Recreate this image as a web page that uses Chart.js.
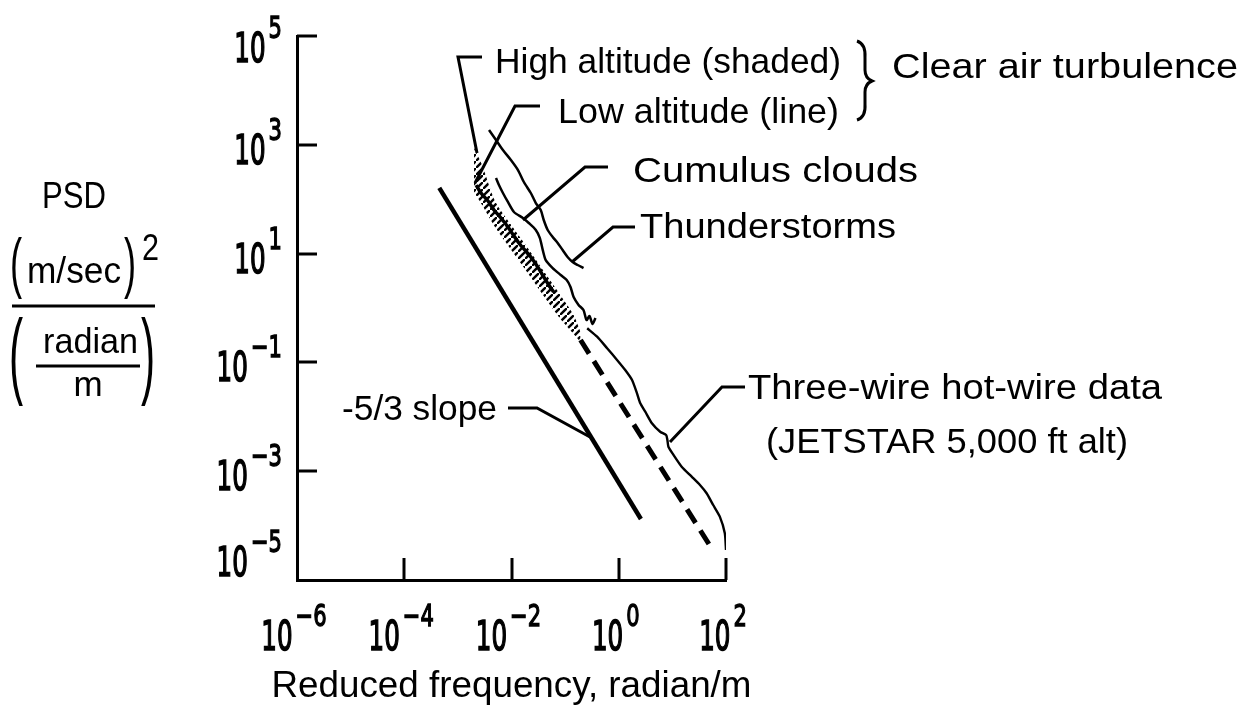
<!DOCTYPE html>
<html><head><meta charset="utf-8">
<script src="https://cdn.jsdelivr.net/npm/chart.js@4/dist/chart.umd.min.js"></script>
<style>html,body{margin:0;padding:0;background:#fff;}#wrap{width:1257px;height:711px;position:relative;}</style>
</head><body><div id="wrap"><canvas id="c" width="1257" height="711"></canvas></div>
<script>
// ---- tick labels (powers of ten) ----
const xTickExponents = [-6, -4, -2, 0, 2];
const yTickExponents = [5, 3, 1, -1, -3, -5];

// ---- series (frequency in radian/m, PSD in (m/sec)^2/(radian/m)) ----
const slopeFreq = [4.50e-4, 2.59];
const slopePSD  = [161, 1.32e-4];

const thunderFreq = [3.81e-3, 5.14e-3, 6.92e-3, 9.75e-3, 1.32e-2, 1.70e-2, 2.29e-2, 2.84e-2, 3.51e-2, 3.99e-2, 4.73e-2, 5.86e-2, 7.26e-2, 8.99e-2, 0.111, 0.138, 0.171, 0.220];
const thunderPSD  = [1871, 1224, 802, 526, 344, 207, 130, 85.1, 63.2, 41.5, 27.2, 20.2, 15.7, 11.6, 8.67, 7.01, 6.17, 5.43];

const cumulusFreq = [5.14e-3, 5.83e-3, 6.92e-3, 8.57e-3, 1.11e-2, 1.63e-2, 2.10e-2, 2.84e-2, 3.37e-2, 3.83e-2, 4.35e-2, 5.86e-2, 8.26e-2, 0.107, 0.126, 0.144, 0.178, 0.220, 0.251, 0.285, 0.324, 0.368];
const cumulusPSD  = [245, 182, 130, 88.9, 58.2, 45.1, 36.5, 27.2, 19.4, 11.6, 7.62, 5.43, 4.05, 3.27, 2.43, 1.59, 1.14, 0.918, 0.601, 0.713, 0.508, 0.655];

const lowAltFreq = [2.19e-3, 2.70e-3, 3.65e-3, 4.71e-3, 6.35e-3, 8.57e-3, 1.11e-2, 1.37e-2, 1.77e-2, 2.29e-2, 3.09e-2, 3.99e-2, 4.94e-2, 6.12e-2];
const lowAltPSD  = [182, 130, 92.7, 63.2, 45.1, 30.8, 21.1, 15.7, 11.6, 8.67, 5.68, 3.72, 2.65, 1.97];

const highAltFreq     = [2.00e-3, 2.83e-3, 4.92e-3, 1.02e-2, 2.01e-2, 3.99e-2, 7.91e-2, 0.144, 0.194];
const highAltUpperPSD = [873, 426, 92.7, 32.1, 12.7, 4.79, 1.81, 0.743, 0.362];
const highAltLowerPSD = [136, 78.2, 30.8, 11.2, 4.40, 1.66, 0.655, 0.333, 0.237];

const extrapFreq = [0.194, 53.8];
const extrapPSD  = [0.258, 3.83e-5];

const hotWireFreq = [0.258, 0.395, 0.607, 0.929, 1.32, 1.77, 2.19, 2.52, 3.12, 4.15, 5.92, 7.64, 8.07, 8.43, 10.5, 14.9, 22.9, 32.7, 43.5, 57.7, 76.7, 95.1, 100];
const hotWirePSD  = [0.424, 0.297, 0.182, 0.111, 0.0724, 0.0474, 0.0270, 0.0177, 0.0124, 7.60e-3, 5.32e-3, 4.62e-3, 3.75e-3, 2.82e-3, 1.99e-3, 1.21e-3, 7.93e-4, 5.57e-4, 3.93e-4, 2.39e-4, 1.46e-4, 7.21e-5, 3.56e-5];

// ---- helpers ----
const pts = (xs, ys) => xs.map((x, i) => ({x: x, y: ys[i]}));
function hatchPattern() {
  const c = document.createElement('canvas'); c.width = 7; c.height = 7;
  const g = c.getContext('2d');
  g.strokeStyle = '#000'; g.lineWidth = 2.4;
  g.beginPath();
  g.moveTo(-1, 8); g.lineTo(8, -1);
  g.stroke();
  return g.createPattern(c, 'repeat');
}
const SANS = '"Liberation Sans", Arial, sans-serif';
const DIG = '"DejaVu Sans", sans-serif';

function txt(ctx, s, x, y, size, opt) {
  opt = opt || {};
  ctx.save();
  ctx.font = (opt.weight || '') + ' ' + size + 'px ' + (opt.family || SANS);
  ctx.textBaseline = 'alphabetic';
  ctx.textAlign = 'left';
  let sx = opt.sx || 1;
  const w = ctx.measureText(s).width;
  if (opt.width) sx = opt.width / w;
  let left = x;
  if (opt.align === 'center') left = x - w * sx / 2;
  if (opt.align === 'right') left = x - w * sx;
  ctx.translate(left, y);
  ctx.scale(sx, opt.sy || 1);
  ctx.fillText(s, 0, 0);
  if (opt.stroke) { ctx.lineWidth = opt.stroke; ctx.strokeText(s, 0, 0); }
  ctx.restore();
}
function poly(ctx, p, lw) {
  ctx.save(); ctx.lineWidth = lw || 3; ctx.lineJoin = 'miter'; ctx.lineCap = 'butt';
  ctx.beginPath(); ctx.moveTo(p[0][0], p[0][1]);
  for (let i = 1; i < p.length; i++) ctx.lineTo(p[i][0], p[i][1]);
  ctx.stroke(); ctx.restore();
}
function power(ctx, exp, x, y, align) {
  const base = '10', sup = (exp < 0 ? '\u2212' : '') + Math.abs(exp);
  const BS = 0.6, SS = 0.68;
  ctx.font = '41px ' + DIG; const wb = ctx.measureText(base).width * BS;
  ctx.font = '31px ' + DIG; const ws = ctx.measureText(sup).width * SS;
  const gap = 3, total = wb + gap + ws;
  const left = align === 'right' ? x - total : x - total / 2;
  txt(ctx, base, left, y, 41, {family: DIG, sx: BS, stroke: 1.6});
  txt(ctx, sup, left + wb + gap, y - 24, 31, {family: DIG, sx: SS, stroke: 1.4});
}

const annotations = [
  {t: 'High altitude (shaded)', x: 495, y: 73, w: 346},
  {t: 'Low altitude (line)', x: 558, y: 123, w: 281},
  {t: 'Clear air turbulence', x: 892, y: 78, w: 346},
  {t: 'Cumulus clouds', x: 633, y: 182, w: 285},
  {t: 'Thunderstorms', x: 640, y: 238, w: 256},
  {t: 'Three-wire hot-wire data', x: 748, y: 399, w: 414},
  {t: '(JETSTAR 5,000 ft alt)', x: 766, y: 453, w: 362},
  {t: '-5/3 slope', x: 342, y: 420, w: 155}
];
const leaders = [
  [[482, 57], [458, 57], [477, 153]],
  [[540, 106], [515, 106], [475, 183]],
  [[608, 167], [585, 167], [523, 220]],
  [[635, 227], [613, 227], [572, 262]],
  [[745, 387], [722, 387], [670, 442]],
  [[508, 408], [537, 408], [590, 437]]
];

const decor = {
  id: 'decor',
  afterDraw(chart) {
    const ctx = chart.ctx, xs = chart.scales.x, ys = chart.scales.y, ca = chart.chartArea;
    ctx.save();
    ctx.strokeStyle = '#000'; ctx.fillStyle = '#000';
    // tick marks (inside)
    yTickExponents.forEach(e => {
      if (e === yTickExponents[yTickExponents.length - 1]) return;
      const y = Math.round(ys.getPixelForValue(Math.pow(10, e)));
      poly(ctx, [[ca.left, y], [ca.left + 20, y]], 3);
    });
    xTickExponents.forEach(e => {
      if (e === xTickExponents[0]) return;
      const x = Math.round(xs.getPixelForValue(Math.pow(10, e)));
      poly(ctx, [[x, ca.bottom], [x, ca.bottom - 22]], 3);
    });
    // tick labels
    yTickExponents.forEach(e => {
      const ty = ys.getPixelForValue(Math.pow(10, e));
      const base = Math.max(ca.top + 26, Math.min(ca.bottom - 4, ty + 19));
      power(ctx, e, 282, base, 'right');
    });
    xTickExponents.forEach(e => {
      const tx = xs.getPixelForValue(Math.pow(10, e));
      power(ctx, e, tx - 3, ca.bottom + 70, 'center');
    });
    // x-axis title
    txt(ctx, 'Reduced frequency, radian/m', (ca.left + ca.right) / 2, 697, 36, {align: 'center', width: 480});
    // y-axis title
    txt(ctx, 'PSD', 74, 208, 36, {align: 'center', width: 64});
    txt(ctx, '(', 10, 285, 66, {sx: 0.55});
    txt(ctx, 'm/sec', 27, 283, 36, {width: 94});
    txt(ctx, ')', 124, 285, 66, {sx: 0.55});
    txt(ctx, '2', 142, 260, 36, {sx: 0.85});
    poly(ctx, [[12, 306], [155, 306]], 3);
    txt(ctx, '(', 9, 386, 94, {sx: 0.45});
    txt(ctx, 'radian', 43, 353, 35, {width: 95});
    poly(ctx, [[36, 366], [140, 366]], 3);
    txt(ctx, 'm', 88, 396, 35, {align: 'center'});
    txt(ctx, ')', 141, 386, 94, {sx: 0.45});
    // annotations
    annotations.forEach(a => txt(ctx, a.t, a.x, a.y, 35, {width: a.w}));
    leaders.forEach(l => poly(ctx, l, 3));
    // brace for clear air turbulence
    ctx.save(); ctx.lineWidth = 3; ctx.beginPath();
    ctx.moveTo(857, 41);
    ctx.quadraticCurveTo(866, 44, 865, 58);
    ctx.lineTo(865, 70);
    ctx.quadraticCurveTo(865, 78, 872, 81);
    ctx.quadraticCurveTo(865, 84, 865, 92);
    ctx.lineTo(865, 104);
    ctx.quadraticCurveTo(866, 117, 857, 120);
    ctx.stroke(); ctx.restore();
    ctx.restore();
  }
};

const ds = (label, xs, ys, extra) => Object.assign({
  label: label, data: pts(xs, ys), borderColor: '#000', backgroundColor: '#000',
  pointRadius: 0, borderWidth: 2.5, tension: 0.25, fill: false, showLine: true
}, extra || {});

new Chart(document.getElementById('c'), {
  type: 'scatter',
  data: {
    datasets: [
      ds('-5/3 slope', slopeFreq, slopePSD, {borderWidth: 4.5, tension: 0}),
      ds('Thunderstorms', thunderFreq, thunderPSD, {borderWidth: 2.5}),
      ds('Cumulus clouds', cumulusFreq, cumulusPSD, {borderWidth: 2.5}),
      ds('Low altitude (line)', lowAltFreq, lowAltPSD, {borderWidth: 3.5}),
      ds('High altitude upper', highAltFreq, highAltUpperPSD, {borderWidth: 0, borderColor: 'rgba(0,0,0,0)'}),
      ds('High altitude (shaded)', highAltFreq, highAltLowerPSD, {borderWidth: 0, borderColor: 'rgba(0,0,0,0)', fill: '-1', backgroundColor: hatchPattern()}),
      ds('Three-wire extrapolation', extrapFreq, extrapPSD, {borderWidth: 5, tension: 0, borderDash: [16, 9]}),
      ds('Three-wire hot-wire data', hotWireFreq, hotWirePSD, {borderWidth: 2.4, tension: 0.2})
    ]
  },
  options: {
    responsive: false, animation: false, devicePixelRatio: 1,
    layout: {padding: {left: 297, right: 531, top: 36, bottom: 131}},
    plugins: {legend: {display: false}, tooltip: {enabled: false}, title: {display: false}},
    scales: {
      x: {type: 'logarithmic', min: 1e-6, max: 1e2, position: 'bottom',
          grid: {display: false, drawTicks: false, tickLength: 0},
          border: {display: true, color: '#000', width: 3},
          ticks: {display: false}},
      y: {type: 'logarithmic', min: 1e-5, max: 1e5, position: 'left',
          grid: {display: false, drawTicks: false, tickLength: 0},
          border: {display: true, color: '#000', width: 3},
          ticks: {display: false}}
    }
  },
  plugins: [decor]
});
</script></body></html>
